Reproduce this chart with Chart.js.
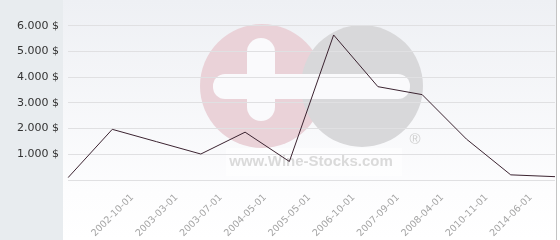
<!DOCTYPE html>
<html lang="en">
<head>
    <meta charset="UTF-8">
    <title>Price chart</title>
    <script src="https://cdn.jsdelivr.net/npm/chart.js@4/dist/chart.umd.min.js"></script>
</head>
<style>
    body { margin: 0; background: #fff; }
    #wrap { width: 560px; height: 240px; }
</style>
<body>
    <div id="wrap">
        <canvas id="priceCanvas" width="560" height="240"></canvas>
    </div>
<script>
    // x-axis dates (first and last point have no label)
    const dates = ['', '2002-10-01', '2003-03-01', '2003-07-01', '2004-05-01', '2005-05-01',
                   '2006-10-01', '2007-09-01', '2008-04-01', '2010-11-01', '2014-06-01', ''];
    // price in $
    const prices = [90, 1970, 1490, 1010, 1860, 720, 5640, 3630, 3320, 1590, 200, 130];
    // y-axis
    const yMin = 0;
    const yMax = 7000;
    const yStep = 1000;

    function fmtDollar(v) {
        return String(v).replace(/\B(?=(\d{3})+(?!\d))/g, '.') + ' $';
    }

    // background panels + wine-stocks watermark, drawn before the grid
    const backdrop = {
        id: 'backdrop',
        beforeDraw(chart) {
            const c = chart.ctx;
            c.save();
            c.fillStyle = '#e8ecef';
            c.fillRect(0, 0, 63, 240);
            const g = c.createLinearGradient(0, 0, 0, 240);
            g.addColorStop(0, '#eef0f4');
            g.addColorStop(0.8, '#fdfdfe');
            g.addColorStop(1, '#ffffff');
            c.fillStyle = g;
            c.fillRect(63, 0, 493, 240);
            c.fillStyle = '#c4c4c4';
            c.fillRect(556, 0, 1, 240);

            // watermark
            c.fillStyle = '#ead2d8';
            c.beginPath(); c.arc(262, 86, 62, 0, Math.PI * 2); c.fill();
            c.fillStyle = '#d8d8da';
            c.beginPath(); c.arc(362, 86, 61, 0, Math.PI * 2); c.fill();
            c.fillStyle = '#fafafc';
            c.beginPath(); c.roundRect(247, 38, 28, 83, 14); c.fill();
            c.beginPath(); c.roundRect(213, 74, 197, 25, 12); c.fill();
            c.fillStyle = 'rgba(255,255,255,0.55)';
            c.fillRect(226, 148, 176, 28);
            c.fillStyle = '#dadada';
            c.font = 'bold 15px "Liberation Sans"';
            c.textAlign = 'center';
            c.textBaseline = 'middle';
            c.fillText('www.Wine-Stocks.com', 311, 162);
            c.font = '15px "Liberation Sans"';
            c.fillStyle = '#cfcfcf';
            c.fillText('\u00ae', 415, 140);
            c.restore();
        }
    };

    const ctx = document.getElementById('priceCanvas').getContext('2d');
    const priceChart = new Chart(ctx, {
        type: 'line',
        data: {
            labels: dates,
            datasets: [{
                label: 'Price',
                data: prices,
                borderColor: '#3b2330',
                borderWidth: 1,
                pointRadius: 0,
                fill: false,
                tension: 0
            }]
        },
        options: {
            responsive: false,
            animation: false,
            layout: { padding: { left: 0, right: 5, top: 0, bottom: 0 } },
            plugins: { legend: { display: false }, tooltip: { enabled: false } },
            scales: {
                x: {
                    offset: false,
                    grid: { display: false },
                    border: { display: false },
                    ticks: {
                        autoSkip: false,
                        maxRotation: 45,
                        minRotation: 45,
                        labelOffset: 20,
                        padding: 4,
                        color: '#a4a4a4',
                        font: { family: 'DejaVu Sans', size: 9.5 }
                    },
                    afterFit: (s) => { s.height = 60; s.paddingLeft = 0; s.paddingRight = 0; }
                },
                y: {
                    min: yMin,
                    max: yMax,
                    grid: {
                        drawTicks: false,
                        color: (c) => c.tick && c.tick.value === yMax ? 'rgba(0,0,0,0)' : '#e0e0e2'
                    },
                    border: { display: false },
                    ticks: {
                        stepSize: yStep,
                        padding: 9,
                        color: '#333',
                        font: { family: 'DejaVu Sans', size: 11 },
                        callback: (v) => (v === yMin || v === yMax) ? '' : fmtDollar(v)
                    },
                    afterFit: (s) => { s.width = 68; s.paddingTop = 0; s.paddingBottom = 0; }
                }
            }
        },
        plugins: [backdrop]
    });
</script>
</body>
</html>
